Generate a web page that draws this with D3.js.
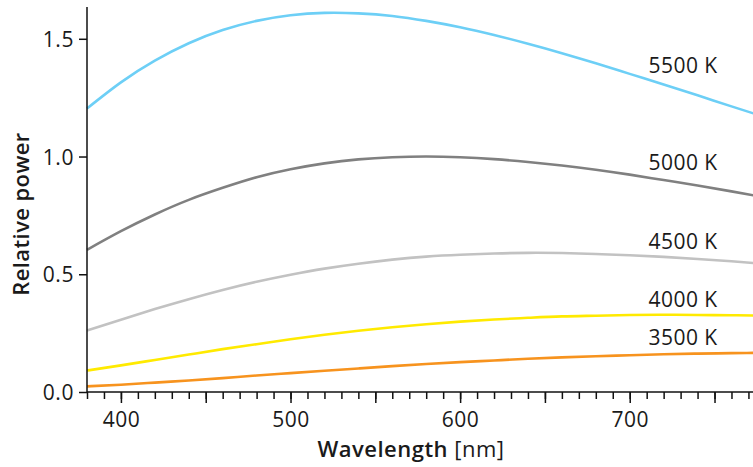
<!DOCTYPE html>
<html>
<head>
<meta charset="utf-8">
<script src="https://cdn.jsdelivr.net/npm/d3@7"></script>
<style>
  html, body { margin: 0; padding: 0; background: #fff; }
  svg { display: block; font-family: "Open Sans", sans-serif; }
</style>
</head>
<body>
<svg id="chart" width="753" height="467"></svg>
<script>
// Wavelengths (nm) at which the curves were read
const wavelengths = [380, 400, 420, 440, 460, 480, 500, 520, 540, 560, 580, 600, 620, 640, 660, 680, 700, 720, 740, 760, 780];

// Relative power per colour temperature
const power3500 = [0.024, 0.031, 0.040, 0.049, 0.059, 0.070, 0.080, 0.090, 0.100, 0.110, 0.119, 0.127, 0.134, 0.141, 0.147, 0.152, 0.156, 0.160, 0.163, 0.165, 0.167];
const power4000 = [0.091, 0.113, 0.136, 0.159, 0.182, 0.203, 0.224, 0.243, 0.260, 0.275, 0.288, 0.299, 0.308, 0.315, 0.321, 0.324, 0.327, 0.328, 0.327, 0.326, 0.324];
const power4500 = [0.261, 0.307, 0.352, 0.394, 0.433, 0.468, 0.498, 0.524, 0.545, 0.562, 0.575, 0.583, 0.588, 0.591, 0.590, 0.586, 0.581, 0.574, 0.565, 0.555, 0.544];
const power5000 = [0.604, 0.683, 0.754, 0.816, 0.867, 0.912, 0.946, 0.971, 0.988, 0.997, 1.000, 0.997, 0.989, 0.977, 0.962, 0.944, 0.923, 0.900, 0.877, 0.852, 0.826];
const power5500 = [1.204, 1.315, 1.407, 1.481, 1.537, 1.576, 1.600, 1.610, 1.608, 1.597, 1.576, 1.549, 1.516, 1.479, 1.439, 1.396, 1.351, 1.306, 1.260, 1.213, 1.167];

const seriesLabels = ["3500 K", "4000 K", "4500 K", "5000 K", "5500 K"];
const seriesColors = ["#f7931e", "#ffea00", "#c2c2c2", "#808080", "#6dcff6"];

// Label anchor (wavelength, relative power)
const labelWavelength = [711, 711, 711, 711, 711];
const labelPower = [0.200, 0.361, 0.608, 0.943, 1.356];

// Tick values
const xMajorTicks = [400, 450, 500, 550, 600, 650, 700, 750];
const xLabelTicks = [400, 500, 600, 700];
const xMinorTicks = d3.range(380, 781, 10);
const yTicks = [0.0, 0.5, 1.0, 1.5];

const allSeries = [power3500, power4000, power4500, power5000, power5500];

const svg = d3.select("#chart");
const x = d3.scaleLinear().domain([380, 780]).range([87, 765.4]);
const y = d3.scaleLinear().domain([0, 1.635]).range([392, 7]);

// Lines
const line = d3.line()
  .x((d, i) => x(wavelengths[i]))
  .y(d => y(d))
  .curve(d3.curveNatural);

svg.append("g")
  .selectAll("path")
  .data(allSeries)
  .join("path")
  .attr("d", d => line(d))
  .attr("fill", "none")
  .attr("stroke", (d, i) => seriesColors[i])
  .attr("stroke-width", 2.6);

// Series labels
svg.append("g")
  .selectAll("text")
  .data(seriesLabels)
  .join("text")
  .attr("x", (d, i) => x(labelWavelength[i]))
  .attr("y", (d, i) => y(labelPower[i]))
  .attr("font-size", 21)
  .attr("letter-spacing", 0.5)
  .attr("fill", "#1a1a1a")
  .text(d => d);

// X axis: minor ticks
const xMinor = svg.append("g")
  .attr("transform", `translate(0,${y(0)})`)
  .call(d3.axisBottom(x).tickValues(xMinorTicks).tickSize(7).tickFormat(""));
// X axis: major ticks with labels on every 100 nm
const xMajor = svg.append("g")
  .attr("transform", `translate(0,${y(0)})`)
  .call(d3.axisBottom(x).tickValues(xMajorTicks).tickSize(11)
    .tickFormat(d => xLabelTicks.includes(d) ? d3.format("d")(d) : ""));
xMajor.selectAll("text").attr("font-size", 21).attr("letter-spacing", 0.5)
  .attr("font-family", "Open Sans, sans-serif")
  .attr("fill", "#1a1a1a").attr("dy", "1.0em");

// Y axis
const yAxis = svg.append("g")
  .attr("transform", `translate(${x(380)},0)`)
  .call(d3.axisLeft(y).tickValues(yTicks).tickSize(8).tickFormat(d3.format(".1f")));
yAxis.selectAll("text").attr("font-size", 21).attr("letter-spacing", 0.6)
  .attr("font-family", "Open Sans, sans-serif")
  .attr("fill", "#1a1a1a").attr("x", -13).attr("dy", "0.36em");

[xMinor, xMajor, yAxis].forEach(g => {
  g.selectAll(".domain").attr("stroke", "#111").attr("stroke-width", 1.5);
  g.selectAll(".tick line").attr("stroke", "#111").attr("stroke-width", 1.5);
});
xMajor.select(".domain").remove();
yAxis.select(".domain").attr("d", `M-0,${y(0)}V${y.range()[1]}`);
xMinor.select(".domain").attr("d", `M${x(380)},0H753`);

// Axis titles
const xt = svg.append("text")
  .attr("x", 411)
  .attr("y", 457)
  .attr("text-anchor", "middle")
  .attr("font-size", 22)
  .attr("letter-spacing", 0.5)
  .attr("fill", "#1a1a1a");
xt.append("tspan").attr("font-weight", 600).text("Wavelength");
xt.append("tspan").text(" [nm]");

svg.append("text")
  .attr("transform", `translate(29,214) rotate(-90)`)
  .attr("text-anchor", "middle")
  .attr("font-size", 22)
  .attr("letter-spacing", 0.4)
  .attr("font-weight", 600)
  .attr("fill", "#1a1a1a")
  .text("Relative power");
</script>
</body>
</html>
